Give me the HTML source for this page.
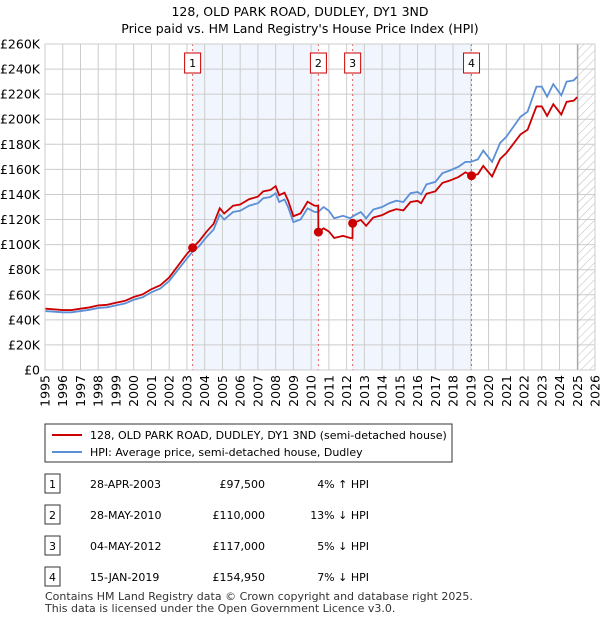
<!DOCTYPE html>
<html><head><meta charset="utf-8"><style>
body{margin:0;background:#fff;font-family:"Liberation Sans","DejaVu Sans",sans-serif;}
#wrap{position:relative;width:600px;height:620px;overflow:hidden}
svg text{font-family:"DejaVu Sans","Liberation Sans",sans-serif}
</style></head><body><div id="wrap">
<svg id="svg" width="600" height="620" xmlns="http://www.w3.org/2000/svg">
<defs><pattern id="hatch" width="6" height="6" patternUnits="userSpaceOnUse" patternTransform="rotate(45)"><line x1="0" y1="0" x2="0" y2="6" stroke="#bbb" stroke-width="1"/></pattern></defs>
<text x="300" y="16" font-size="12.5" text-anchor="middle">128, OLD PARK ROAD, DUDLEY, DY1 3ND</text>
<text x="300" y="33" font-size="12.5" text-anchor="middle">Price paid vs. HM Land Registry's House Price Index (HPI)</text>
<g id="plot"></g>
<g>
<rect x="45" y="424" width="407" height="38" fill="#fff" stroke="#333" stroke-width="1"/>
<line x1="52" y1="435" x2="82" y2="435" stroke="#cc0000" stroke-width="2"/>
<text x="90" y="439" font-size="11">128, OLD PARK ROAD, DUDLEY, DY1 3ND (semi-detached house)</text>
<line x1="52" y1="452" x2="82" y2="452" stroke="#5b8fd6" stroke-width="2"/>
<text x="90" y="456" font-size="11">HPI: Average price, semi-detached house, Dudley</text>
</g>
<g id="table" font-size="11"></g>
<text x="45" y="600" font-size="11" fill="#333">Contains HM Land Registry data © Crown copyright and database right 2025.</text>
<text x="45" y="612" font-size="11" fill="#333">This data is licensed under the Open Government Licence v3.0.</text>
</svg></div>
<script>
const hpiYears=[1995.0,1995.5,1996.0,1996.5,1997.0,1997.5,1998.0,1998.5,1999.0,1999.5,2000.0,2000.5,2001.0,2001.5,2002.0,2002.5,2003.0,2003.3,2003.7,2004.1,2004.5,2004.85,2005.1,2005.6,2006.0,2006.5,2007.0,2007.3,2007.7,2008.0,2008.2,2008.5,2008.7,2009.0,2009.4,2009.8,2010.2,2010.4,2010.7,2011.0,2011.3,2011.8,2012.2,2012.4,2012.8,2013.1,2013.5,2014.0,2014.4,2014.8,2015.2,2015.6,2016.0,2016.2,2016.5,2017.0,2017.4,2017.8,2018.3,2018.7,2019.0,2019.4,2019.7,2020.2,2020.65,2021.0,2021.5,2021.8,2022.2,2022.7,2023.0,2023.3,2023.65,2024.1,2024.4,2024.8,2025.0];
const hpiValues=[47,46.5,46,46,47,48,49.5,50,51.5,53,56,58,62,65,71,80,89,94,99,106,112,124,120,126,127,131,133,137,138,141,134,136,130,118,120,129,126,126,130,127,121,123,121,123,126,121,128,130,133,135,134,141,142,140,148,150,157,159,162,166,166,168,175,166,181,186,196,202,206,226,226,218,228,219,230,231,234];
const priceYears=[1995.0,1995.5,1996.0,1996.5,1997.0,1997.5,1998.0,1998.5,1999.0,1999.5,2000.0,2000.5,2001.0,2001.5,2002.0,2002.5,2003.0,2003.32,2003.7,2004.1,2004.5,2004.85,2005.1,2005.6,2006.0,2006.5,2007.0,2007.3,2007.7,2008.0,2008.2,2008.5,2008.7,2009.0,2009.4,2009.8,2010.2,2010.4,2010.41,2010.7,2011.0,2011.3,2011.8,2012.2,2012.33,2012.34,2012.8,2013.1,2013.5,2014.0,2014.4,2014.8,2015.2,2015.6,2016.0,2016.2,2016.5,2017.0,2017.4,2017.8,2018.3,2018.7,2019.04,2019.4,2019.7,2020.2,2020.65,2021.0,2021.5,2021.8,2022.2,2022.7,2023.0,2023.3,2023.65,2024.1,2024.4,2024.8,2025.0];
const priceValues=[48.9,48.4,47.8,47.8,48.9,49.9,51.5,52,53.6,55.1,58.2,60.3,64.5,67.6,73.8,83.2,92.6,97.5,103,110.2,116.5,129,124.8,131,132,136.2,138.3,142.5,143.5,146.6,139.4,141.4,135.2,122.7,124.8,134.2,131,131,110,113,110.5,105.3,107,105.3,105.3,117,119.7,115,121.6,123.5,126.4,128.3,127.3,134,134.9,133,140.6,142.5,149.2,151,153.9,157.7,154.95,156.2,162.8,154.4,168.3,173,182.3,187.9,191.6,210.2,210.2,202.7,212,203.7,213.9,214.8,217.6];
const saleYears=[2003.32,2010.41,2012.34,2019.04];
const salePrices=[97.5,110,117,154.95];
const saleDates=["28-APR-2003","28-MAY-2010","04-MAY-2012","15-JAN-2019"];
const saleLabels=["£97,500","£110,000","£117,000","£154,950"];
const saleDiffs=["4% ↑ HPI","13% ↓ HPI","5% ↓ HPI","7% ↓ HPI"];
const yTicks=[0,20,40,60,80,100,120,140,160,180,200,220,240,260];
const xTicks=[1995,1996,1997,1998,1999,2000,2001,2002,2003,2004,2005,2006,2007,2008,2009,2010,2011,2012,2013,2014,2015,2016,2017,2018,2019,2020,2021,2022,2023,2024,2025,2026];
const dataEnd=2025.03;

const L=45,R=595,T=44,B=370;
const x=y=>L+(y-1995)/(2026-1995)*(R-L);
const yv=v=>B-v/260*(B-T);
const NS="http://www.w3.org/2000/svg";
const plot=document.getElementById('plot');
function mk(tag,attrs,parent){const e=document.createElementNS(NS,tag);for(const k in attrs)e.setAttribute(k,attrs[k]);(parent||plot).appendChild(e);return e;}

// shaded spans
for(let i=0;i<saleYears.length;i+=2){
  const r=mk('rect',{x:x(saleYears[i]),y:T,width:x(saleYears[i+1])-x(saleYears[i]),height:B-T,fill:'#eef3fc',opacity:0.8});
  
  
}
const h=mk('rect',{x:x(dataEnd),y:T,width:R-x(dataEnd),height:B-T,fill:'url(#hatch)'});


// grid
yTicks.forEach(v=>{
  const g=mk('line',{x1:L,x2:R,y1:yv(v),y2:yv(v),stroke:'#ccc','stroke-width':1});
  
  
  const t=mk('text',{x:L-5,y:yv(v)+4.5,'font-size':12.5,'text-anchor':'end'});
  t.textContent='£'+(v===0?'0':v+'K');
  
  
});
xTicks.forEach(yr=>{
  const g=mk('line',{x1:x(yr),x2:x(yr),y1:T,y2:B,stroke:'#ccc','stroke-width':1});
  
  
  const t=mk('text',{x:0,y:0,'font-size':12.5,'text-anchor':'end',transform:`translate(${x(yr)+4.5},${B+5}) rotate(-90)`});
  t.textContent=yr;
  
  
});
const el=mk('line',{x1:x(dataEnd),x2:x(dataEnd),y1:T,y2:B,stroke:'#999','stroke-width':1});


// sale markers lines
saleYears.forEach((s,i)=>{
  const l=mk('line',{x1:x(s),x2:x(s),y1:T,y2:B,stroke:'#e06060','stroke-width':1,'stroke-dasharray':'2,3'});
  
  
  const r=mk('rect',{x:x(s)-8,y:53,width:16,height:20,fill:'#fff',stroke:'#cc0000','stroke-width':1});
  
  
  const t=mk('text',{x:x(s),y:67,'font-size':11,'text-anchor':'middle'});
  t.textContent=i+1;
  
  
});
const hp=mk('polyline',{points:hpiYears.map((y,i)=>x(y)+','+yv(hpiValues[i])).join(' '),fill:'none',stroke:'#5b8fd6','stroke-width':1.8});


const pp=mk('polyline',{points:priceYears.map((y,i)=>x(y)+','+yv(priceValues[i])).join(' '),fill:'none',stroke:'#cc0000','stroke-width':1.8});


saleYears.forEach((s,i)=>{
  const c=mk('circle',{cx:x(s),cy:yv(salePrices[i]),r:4.5,fill:'#cc0000'});
  
  
});
const fr=mk('rect',{x:L,y:T,width:R-L,height:B-T,fill:'none',stroke:'#ccc','stroke-width':1});


// table
const tb=document.getElementById('table');
const rowY=[484,515,546,577];
saleYears.forEach((s,i)=>{
  const yy=rowY[i];
  const b=mk('rect',{x:45,y:yy-10,width:15,height:19,fill:'#fff',stroke:'#333','stroke-width':1},tb);
  
  
  const n=mk('text',{x:52.5,y:yy+4,'text-anchor':'middle'},tb);n.textContent=i+1;
  
  
  const d=mk('text',{x:90,y:yy+4},tb);d.textContent=saleDates[i];
  
  
  const p=mk('text',{x:265,y:yy+4,'text-anchor':'end'},tb);p.textContent=saleLabels[i];
  
  
  const q=mk('text',{x:369,y:yy+4,'text-anchor':'end'},tb);q.textContent=saleDiffs[i];
  
  
});
</script></body></html>
